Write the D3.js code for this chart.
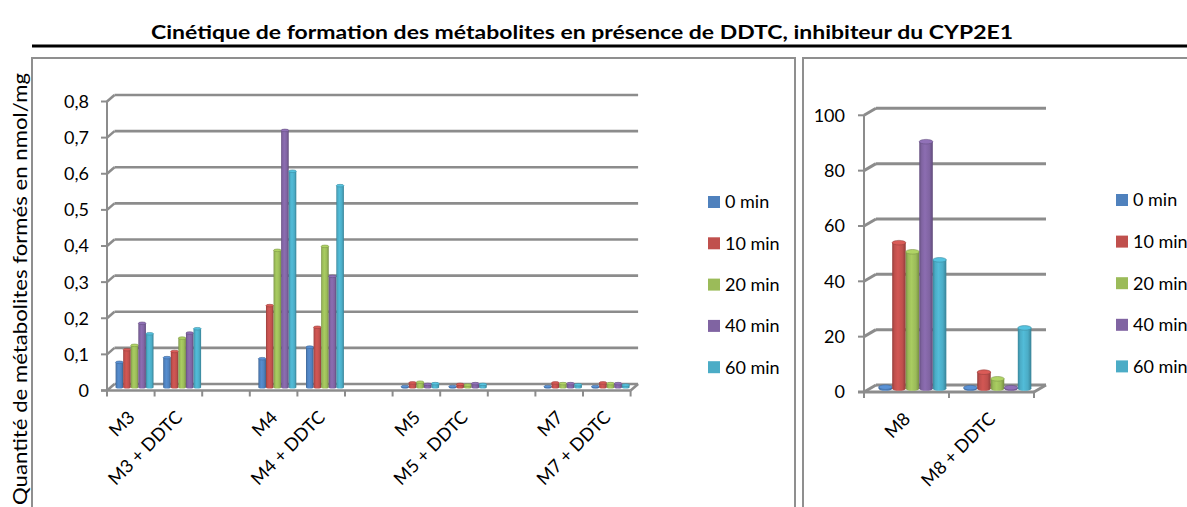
<!DOCTYPE html>
<html>
<head>
<meta charset="utf-8">
<script src="https://cdn.jsdelivr.net/npm/d3@7"></script>
<style>
  html, body { margin: 0; padding: 0; background: #fff; overflow: hidden; }
  text { font-family: Lato, "Open Sans", sans-serif; }
</style>
</head>
<body>
<svg id="chart" width="1187" height="507"></svg>
<script>
// ---- Data -------------------------------------------------------------
const titleText = "Cinétique de formation des métabolites en présence de DDTC, inhibiteur du CYP2E1";
const yAxisTitle = "Quantité de métabolites formés en nmol/mg";

const seriesNames  = ["0 min", "10 min", "20 min", "40 min", "60 min"];
const seriesColors = ["#4F81BD", "#C0504D", "#9BBB59", "#8064A2", "#4BACC6"];

// Left panel: minor metabolites (nmol/mg)
const leftCategories = ["M3", "M3 + DDTC", "M4", "M4 + DDTC", "M5", "M5 + DDTC", "M7", "M7 + DDTC"];
const left0min  = [0.069, 0.082, 0.079, 0.111, 0.002, 0.002, 0.002, 0.002];
const left10min = [0.104, 0.099, 0.226, 0.166, 0.012, 0.008, 0.012, 0.012];
const left20min = [0.116, 0.136, 0.379, 0.390, 0.014, 0.006, 0.010, 0.010];
const left40min = [0.177, 0.150, 0.711, 0.307, 0.008, 0.010, 0.010, 0.010];
const left60min = [0.148, 0.162, 0.598, 0.558, 0.010, 0.008, 0.007, 0.006];
const leftTicks      = [0, 0.1, 0.2, 0.3, 0.4, 0.5, 0.6, 0.7, 0.8];
const leftTickLabels = ["0", "0,1", "0,2", "0,3", "0,4", "0,5", "0,6", "0,7", "0,8"];

// Right panel: M8 (nmol/mg)
const rightCategories = ["M8", "M8 + DDTC"];
const right0min  = [0.5, 0.3];
const right10min = [52.7, 5.9];
const right20min = [49.4, 3.5];
const right40min = [89.2, 0.3];
const right60min = [46.5, 21.9];
const rightTicks      = [0, 20, 40, 60, 80, 100];
const rightTickLabels = ["0", "20", "40", "60", "80", "100"];

// ---- Drawing ----------------------------------------------------------
const svg = d3.select("#chart");
const defs = svg.append("defs");
const gridColor = "#8c8c8c";

// Cylinder shading: darker edges, lighter centre-left
seriesColors.forEach((c, i) => {
  const base = d3.color(c);
  const grad = defs.append("linearGradient")
    .attr("id", "cyl" + i).attr("x1", 0).attr("x2", 1).attr("y1", 0).attr("y2", 0);
  [[0, base.darker(0.7)], [0.18, base], [0.42, base.brighter(0.25)],
   [0.75, base], [1, base.darker(0.8)]].forEach(([o, col]) => {
    grad.append("stop").attr("offset", o).attr("stop-color", col.formatHex());
  });
});

// Title and rule
svg.append("text")
  .attr("x", 582).attr("y", 39)
  .attr("text-anchor", "middle")
  .attr("font-weight", "bold")
  .attr("font-size", 19.5)
  .attr("textLength", 862)
  .attr("lengthAdjust", "spacingAndGlyphs")
  .attr("fill", "#000")
  .text(titleText);
svg.append("line")
  .attr("x1", 32).attr("x2", 1187).attr("y1", 46).attr("y2", 46)
  .attr("stroke", "#000").attr("stroke-width", 3);

// Panel frames (they run past the bottom edge)
svg.append("path")
  .attr("d", "M32,520V58H795V520")
  .attr("fill", "none").attr("stroke", "#8f8f8f").attr("stroke-width", 2);
svg.append("path")
  .attr("d", "M803,520V58H1200")
  .attr("fill", "none").attr("stroke", "#8f8f8f").attr("stroke-width", 2);

// Y axis title
svg.append("text")
  .attr("transform", "translate(26.5,289) rotate(-90)")
  .attr("text-anchor", "middle")
  .attr("font-size", 19)
  .attr("textLength", 432)
  .attr("lengthAdjust", "spacingAndGlyphs")
  .attr("fill", "#000")
  .text(yAxisTitle);

function drawChart(cfg) {
  const g = svg.append("g");
  const x = d3.scaleBand().domain(cfg.slots).range([cfg.x0, cfg.x1]);
  const y = d3.scaleLinear().domain([0, cfg.max]).range([cfg.yBase, cfg.yTop]); // back wall
  const s = d3.scaleBand().domain(seriesNames).range([0, x.bandwidth()]).paddingOuter(0.64);
  const dx = cfg.dx, dy = cfg.dy;   // depth offset from front plane to back wall

  // Back wall gridlines, side wall stubs and value ticks
  cfg.ticks.forEach((t, i) => {
    const yb = y(t), yf = yb + dy;
    g.append("line").attr("x1", cfg.x0 + dx).attr("x2", cfg.x1 + dx)
      .attr("y1", yb).attr("y2", yb)
      .attr("stroke", gridColor).attr("stroke-width", cfg.gridWidth);
    g.append("line").attr("x1", cfg.x0).attr("y1", yf).attr("x2", cfg.x0 + dx).attr("y2", yb)
      .attr("stroke", gridColor).attr("stroke-width", cfg.gridWidth);
    g.append("line").attr("x1", cfg.x0 - 6).attr("x2", cfg.x0).attr("y1", yf).attr("y2", yf)
      .attr("stroke", gridColor).attr("stroke-width", 2);
    g.append("text")
      .attr("x", cfg.x0 - cfg.labelGap).attr("y", yf)
      .attr("dy", "0.36em")
      .attr("text-anchor", "end")
      .attr("font-size", 18).attr("fill", "#000")
      .text(cfg.tickLabels[i]);
  });

  const y0f = y(0) + dy;
  // Vertical axis (front edge of side wall)
  g.append("line").attr("x1", cfg.x0).attr("x2", cfg.x0)
    .attr("y1", y(cfg.max) + dy).attr("y2", y0f)
    .attr("stroke", gridColor).attr("stroke-width", 2);
  // Floor front edge and right edge
  g.append("line").attr("x1", cfg.x0 - 6).attr("x2", cfg.x1).attr("y1", y0f).attr("y2", y0f)
    .attr("stroke", gridColor).attr("stroke-width", cfg.gridWidth);
  g.append("line").attr("x1", cfg.x1).attr("y1", y0f).attr("x2", cfg.x1 + dx).attr("y2", y(0))
    .attr("stroke", gridColor).attr("stroke-width", cfg.gridWidth);

  // Category ticks at band boundaries
  const bounds = cfg.slots.map(d => x(d)).concat([cfg.x1]);
  bounds.forEach(bx => {
    g.append("line").attr("x1", bx).attr("x2", bx).attr("y1", y0f).attr("y2", y0f + 6)
      .attr("stroke", gridColor).attr("stroke-width", 2);
  });

  // Rotated category labels
  cfg.categories.forEach(c => {
    const cx = x(c) + x.bandwidth() / 2;
    g.append("text")
      .attr("transform", `translate(${cx + 5},${y0f + 28}) rotate(-45)`)
      .attr("text-anchor", "end")
      .attr("font-size", 18).attr("fill", "#000")
      .text(c);
  });

  // Cylinders, placed mid-depth
  const w = s.bandwidth();
  const ry = Math.max(1.3, w * 0.17);
  cfg.values.forEach((vals, si) => {
    const base = d3.color(seriesColors[si]);
    vals.forEach((v, ci) => {
      const c = cfg.categories[ci];
      const bx = x(c) + s(seriesNames[si]) + dx / 2;
      const yb = y(0) + dy / 2;
      const yt2 = y(v) + dy / 2;
      const bar = g.append("g");
      bar.append("ellipse").attr("cx", bx + w / 2).attr("cy", yb).attr("rx", w / 2).attr("ry", ry)
        .attr("fill", `url(#cyl${si})`);
      bar.append("rect").attr("x", bx).attr("y", yt2).attr("width", w).attr("height", Math.max(0, yb - yt2))
        .attr("fill", `url(#cyl${si})`);
      bar.append("ellipse").attr("cx", bx + w / 2).attr("cy", yt2).attr("rx", w / 2).attr("ry", ry)
        .attr("fill", base.brighter(0.35).formatHex())
        .attr("stroke", base.darker(0.6).formatHex()).attr("stroke-width", 0.6);
    });
  });

  // Legend
  seriesNames.forEach((name, i) => {
    const ly = cfg.legendY + i * cfg.legendStep;
    g.append("rect").attr("x", cfg.legendX).attr("y", ly - 6).attr("width", 12).attr("height", 12)
      .attr("fill", seriesColors[i]);
    g.append("text").attr("x", cfg.legendX + 17).attr("y", ly).attr("dy", "0.36em")
      .attr("font-size", 18).attr("fill", "#000").text(name);
  });
}

// Left chart: a blank slot separates each metabolite pair
const leftSlots = [];
leftCategories.forEach((c, i) => {
  leftSlots.push(c);
  if (i % 2 === 1 && i < leftCategories.length - 1) leftSlots.push("gap" + i);
});

drawChart({
  slots: leftSlots, categories: leftCategories,
  values: [left0min, left10min, left20min, left40min, left60min],
  ticks: leftTicks, tickLabels: leftTickLabels, max: 0.8,
  x0: 107, x1: 630.6, yBase: 384, yTop: 95, dx: 7.5, dy: 6.5,
  gridWidth: 2.6, labelGap: 18,
  legendX: 708, legendY: 202, legendStep: 41.3
});

drawChart({
  slots: rightCategories, categories: rightCategories,
  values: [right0min, right10min, right20min, right40min, right60min],
  ticks: rightTicks, tickLabels: rightTickLabels, max: 100,
  x0: 864, x1: 1034, yBase: 385, yTop: 108.3, dx: 12, dy: 7,
  gridWidth: 3, labelGap: 19,
  legendX: 1116, legendY: 200, legendStep: 41.6
});
</script>
</body>
</html>
